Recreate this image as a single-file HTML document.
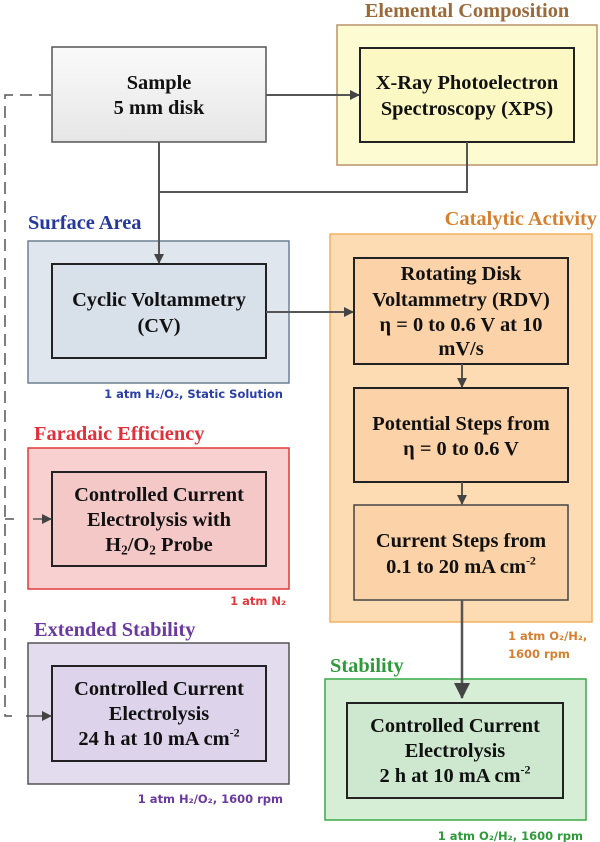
<!DOCTYPE html>
<html><head><meta charset="utf-8"><style>
html,body{margin:0;padding:0;background:#fff;}
svg{display:block;}
.b{font-family:"Liberation Serif",serif;font-weight:bold;font-size:17px;fill:#111;text-anchor:middle;}
.t{font-family:"Liberation Serif",serif;font-weight:bold;font-size:17px;}
.s{font-family:"DejaVu Sans","Liberation Sans",sans-serif;font-weight:bold;font-size:11.5px;}
</style></head><body>
<svg width="600" height="842" viewBox="0 0 600 842" xmlns="http://www.w3.org/2000/svg">
<defs>
<linearGradient id="g" x1="0" y1="0" x2="0" y2="1"><stop offset="0" stop-color="#fafafa"/><stop offset="1" stop-color="#e6e6e6"/></linearGradient>
<marker id="a" markerWidth="10" markerHeight="10" refX="9" refY="5" orient="auto" markerUnits="userSpaceOnUse"><path d="M0,0 L10,5 L0,10 z" fill="#444"/></marker>
<marker id="a2" markerWidth="16" markerHeight="16" refX="15" refY="8" orient="auto" markerUnits="userSpaceOnUse"><path d="M0,0 L16,8 L0,16 z" fill="#444"/></marker>
</defs>

<text class="t" transform="translate(467,17) scale(1.2)" text-anchor="middle" fill="#9a6a3a">Elemental Composition</text>
<rect x="337" y="25" width="260" height="140" fill="#fdfbd2" stroke="#b8946a" stroke-width="1.5"/>
<rect x="360" y="48" width="214" height="94" fill="#fbf8c4" stroke="#222" stroke-width="2"/>
<text class="b" transform="translate(467,89) scale(1.2)">X-Ray Photoelectron</text>
<text class="b" transform="translate(467,115) scale(1.2)">Spectroscopy (XPS)</text>

<rect x="52" y="47" width="214" height="95" fill="url(#g)" stroke="#555" stroke-width="1.5"/>
<text class="b" transform="translate(159,89) scale(1.2)">Sample</text>
<text class="b" transform="translate(159,114) scale(1.2)">5 mm disk</text>

<text class="t" transform="translate(28,229) scale(1.2)" fill="#25399a">Surface Area</text>
<rect x="28" y="241" width="261" height="142" fill="#dfe6ee" stroke="#6f8094" stroke-width="1.5"/>
<rect x="52" y="264" width="214" height="94" fill="#d8e0ea" stroke="#222" stroke-width="2"/>
<text class="b" transform="translate(159,306) scale(1.2)">Cyclic Voltammetry</text>
<text class="b" transform="translate(159,332) scale(1.2)">(CV)</text>
<text class="s" x="283" y="398" text-anchor="end" fill="#2a3fa8">1 atm H₂/O₂, Static Solution</text>

<text class="t" transform="translate(597,225) scale(1.2)" text-anchor="end" fill="#d48030">Catalytic Activity</text>
<rect x="330" y="234" width="262" height="388" fill="#fddbb3" stroke="#f0b25e" stroke-width="1.5"/>
<rect x="354" y="258" width="214" height="106" fill="#fcd3a8" stroke="#222" stroke-width="2"/>
<text class="b" transform="translate(461,280) scale(1.2)">Rotating Disk</text>
<text class="b" transform="translate(461,306) scale(1.2)">Voltammetry (RDV)</text>
<text class="b" transform="translate(461,331) scale(1.2)">η = 0 to 0.6 V at 10</text>
<text class="b" transform="translate(461,355) scale(1.2)">mV/s</text>
<rect x="354" y="388" width="214" height="94" fill="#fcd3a8" stroke="#222" stroke-width="2"/>
<text class="b" transform="translate(461,430) scale(1.2)">Potential Steps from</text>
<text class="b" transform="translate(461,455) scale(1.2)">η = 0 to 0.6 V</text>
<rect x="354" y="505" width="214" height="95" fill="#fcd3a8" stroke="#444" stroke-width="1.5"/>
<text class="b" transform="translate(461,547) scale(1.2)">Current Steps from</text>
<text class="b" transform="translate(461,573) scale(1.2)">0.1 to 20 mA cm<tspan dy="-7" font-size="10">-2</tspan></text>
<text class="s" x="508" y="640" fill="#d48030">1 atm O₂/H₂,</text>
<text class="s" x="508" y="658" fill="#d48030">1600 rpm</text>

<text class="t" transform="translate(34,440) scale(1.2)" fill="#e0303a">Faradaic Efficiency</text>
<rect x="28" y="448" width="261" height="141" fill="#f8d0d0" stroke="#e03a3a" stroke-width="1.5"/>
<rect x="52" y="472" width="214" height="94" fill="#f5c8c8" stroke="#222" stroke-width="2"/>
<text class="b" transform="translate(159,501) scale(1.2)">Controlled Current</text>
<text class="b" transform="translate(159,526) scale(1.2)">Electrolysis with</text>
<text class="b" transform="translate(159,551) scale(1.2)">H<tspan font-size="11" dy="3">2</tspan><tspan dy="-3">/O</tspan><tspan font-size="11" dy="3">2</tspan><tspan dy="-3"> Probe</tspan></text>
<text class="s" x="286" y="605" text-anchor="end" fill="#e03a3a">1 atm N₂</text>

<text class="t" transform="translate(34,636) scale(1.2)" fill="#6a3a9e">Extended Stability</text>
<rect x="28" y="643" width="261" height="141" fill="#e3dcef" stroke="#555" stroke-width="1.5"/>
<rect x="52" y="666" width="214" height="95" fill="#ddd4ec" stroke="#222" stroke-width="2"/>
<text class="b" transform="translate(159,695) scale(1.2)">Controlled Current</text>
<text class="b" transform="translate(159,720) scale(1.2)">Electrolysis</text>
<text class="b" transform="translate(159,745) scale(1.2)">24 h at 10 mA cm<tspan dy="-7" font-size="10">-2</tspan></text>
<text class="s" x="283" y="803" text-anchor="end" fill="#6a3a9e">1 atm H₂/O₂, 1600 rpm</text>

<text class="t" transform="translate(330,672) scale(1.2)" fill="#2f9a3a">Stability</text>
<rect x="325" y="679" width="261" height="141" fill="#d6eed6" stroke="#3aaa46" stroke-width="1.5"/>
<rect x="347" y="703" width="216" height="95" fill="#cde8cf" stroke="#222" stroke-width="2"/>
<text class="b" transform="translate(455,732) scale(1.2)">Controlled Current</text>
<text class="b" transform="translate(455,757) scale(1.2)">Electrolysis</text>
<text class="b" transform="translate(455,782) scale(1.2)">2 h at 10 mA cm<tspan dy="-7" font-size="10">-2</tspan></text>
<text class="s" x="583" y="840" text-anchor="end" fill="#2f9a3a">1 atm O₂/H₂, 1600 rpm</text>

<line x1="266" y1="95" x2="359" y2="95" stroke="#555" stroke-width="2" marker-end="url(#a)"/>
<line x1="159" y1="142" x2="159" y2="263" stroke="#555" stroke-width="2" marker-end="url(#a)"/>
<polyline points="467,142 467,192 159,192" fill="none" stroke="#555" stroke-width="2"/>
<line x1="266" y1="312" x2="353" y2="312" stroke="#555" stroke-width="2" marker-end="url(#a)"/>
<line x1="462" y1="364" x2="462" y2="387" stroke="#555" stroke-width="2" marker-end="url(#a)"/>
<line x1="462" y1="482" x2="462" y2="504" stroke="#555" stroke-width="2" marker-end="url(#a)"/>
<line x1="462" y1="600" x2="462" y2="698" stroke="#555" stroke-width="2.5" marker-end="url(#a2)"/>
<polyline points="51,95 5,95 5,716 12,716" fill="none" stroke="#555" stroke-width="1.5" stroke-dasharray="12,7"/>
<polyline points="5,519 14,519" fill="none" stroke="#555" stroke-width="1.5"/>
<line x1="33" y1="519" x2="51" y2="519" stroke="#555" stroke-width="1.5" marker-end="url(#a)"/>
<line x1="26" y1="716" x2="51" y2="716" stroke="#555" stroke-width="1.5" marker-end="url(#a)"/>
</svg>
</body></html>
